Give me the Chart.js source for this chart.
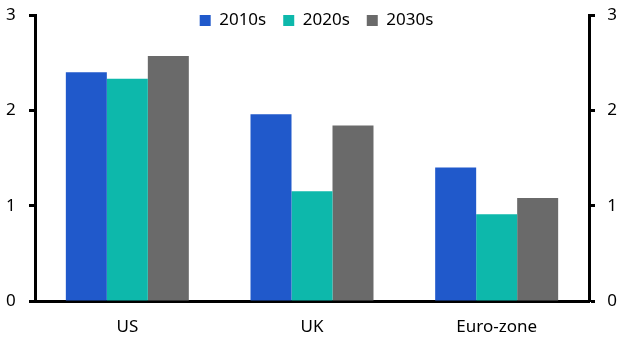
<!DOCTYPE html>
<html>
<head>
<meta charset="utf-8">
<script src="https://cdn.jsdelivr.net/npm/chart.js@4/dist/chart.umd.min.js"></script>
<style>
html,body{margin:0;padding:0;background:#fff;}
#wrap{width:628px;height:364px;position:relative;}
</style>
</head>
<body>
<div id="wrap"><canvas id="c" width="628" height="364"></canvas></div>
<script>
const categories = ["US", "UK", "Euro-zone"];
const seriesNames = ["2010s", "2020s", "2030s"];
const values2010s = [2.40, 1.96, 1.40];
const values2020s = [2.33, 1.15, 0.91];
const values2030s = [2.57, 1.84, 1.08];
const yTicks = [0, 1, 2, 3];

const colors = ["#2059CB", "#0DB8AB", "#6A6A6A"];
const FONT = "'Noto Sans', sans-serif";

const legendShift = {
  id: 'legendShift',
  afterLayout(chart) {
    const lg = chart.legend;
    if (!lg) return;
    const h = lg.bottom - lg.top;
    lg.top = -5;
    lg.bottom = lg.top + h;
    lg.left += 5;
    lg.right += 5;
  }
};

const yAxisCommon = {
  min: 0, max: 3,
  afterBuildTicks(scale) { scale.ticks = yTicks.map(v => ({value: v})); },
  grid: {drawOnChartArea: false, drawTicks: true, tickLength: 6, tickWidth: 3, tickColor: '#000'},
  border: {display: true, color: '#000', width: 3},
  ticks: {color: '#000', padding: 0, crossAlign: 'far', font: {family: FONT, size: 17, lineHeight: '30px'}}
};

const chart = new Chart(document.getElementById('c'), {
  type: 'bar',
  data: {
    labels: categories,
    datasets: [
      {label: seriesNames[0], data: values2010s, backgroundColor: colors[0], yAxisID: 'y'},
      {label: seriesNames[1], data: values2020s, backgroundColor: colors[1], yAxisID: 'y'},
      {label: seriesNames[2], data: values2030s, backgroundColor: colors[2], yAxisID: 'y'}
    ]
  },
  options: {
    responsive: false,
    animation: false,
    devicePixelRatio: 1,
    layout: {padding: {top: -60, left: 6, right: 11, bottom: 0}},
    datasets: {bar: {categoryPercentage: 0.666, barPercentage: 1.0, borderWidth: 0}},
    plugins: {
      tooltip: {enabled: false},
      legend: {
        position: 'top',
        align: 'center',
        labels: {
          boxWidth: 11, boxHeight: 11, padding: 17,
          color: '#000',
          font: {family: FONT, size: 17}
        }
      }
    },
    scales: {
      x: {
        grid: {display: false, drawTicks: false},
        border: {display: true, color: '#000', width: 3},
        ticks: {color: '#000', padding: 16, font: {family: FONT, size: 17}},
        afterFit(scale) { scale.height = 63; }
      },
      y: Object.assign({}, yAxisCommon, {
        position: 'left',
        afterFit(scale) { scale.width = 29; }
      }),
      y2: Object.assign({}, yAxisCommon, {
        position: 'right',
        afterFit(scale) { scale.width = 28; }
      })
    }
  },
  plugins: [legendShift]
});
</script>
</body>
</html>
